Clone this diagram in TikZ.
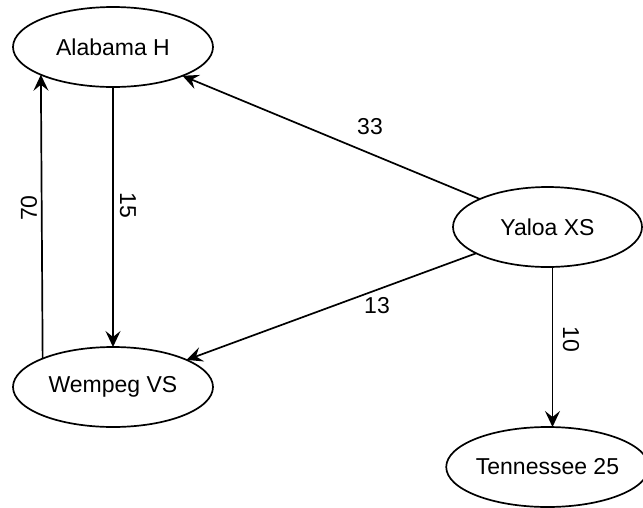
\documentclass[tikz,border=0pt]{standalone}
\usepackage{fontspec}
\setmainfont{Liberation Sans}
\usetikzlibrary{arrows.meta,shapes.geometric}
\begin{document}
\begin{tikzpicture}[x=1pt,y=-1pt,
  state/.style={ellipse,draw,line width=1.7pt,minimum height=80pt,inner sep=0pt,outer sep=0pt,
    font=\fontsize{23}{23}\selectfont},
  edge/.style={line width=1.7pt,-{Stealth[length=16pt,width=15pt,inset=6pt]}},
  lbl/.style={font=\fontsize{23}{23}\selectfont,inner sep=0pt}]
\useasboundingbox (0,0) rectangle (643,507);
\node[state,minimum width=200pt] (A) at (113,47) {Alabama H};
\node[state,minimum width=200pt] (W) at (113,387) {Wempeg VS};
\node[state,minimum width=189pt] (Y) at (547.5,227) {Yaloa XS};
\node[state,minimum width=189pt] (T) at (547.5,467) {Tennessee 25};
\draw[edge] (A) -- (W);
\draw[edge] (W.158.3) -- (A.201.7);
\draw[edge] (Y) -- (A);
\draw[edge] (Y) -- (W);
\draw[edge] ([xshift=5pt]Y.south) -- ([xshift=5pt]T.north);
\node[lbl] (l33) at (370,127) {33};
\node[lbl] (l13) at (377,306) {13};
\node[lbl,rotate=-90] (l15) at (128,205) {15};
\node[lbl,rotate=90] (l70) at (29,208) {70};
\node[lbl,rotate=-90] (l10) at (571,339) {10};
\end{tikzpicture}
\end{document}
